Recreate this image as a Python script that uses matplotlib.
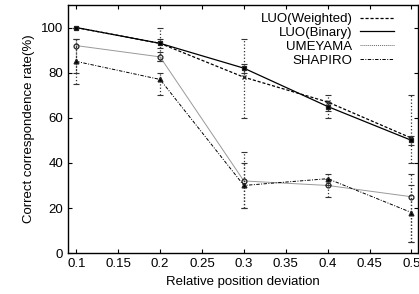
import numpy as np
import matplotlib.pyplot as plt
from matplotlib.lines import Line2D

plt.rcParams["font.family"] = ["Liberation Sans", "DejaVu Sans"]

x = [0.1, 0.2, 0.3, 0.4, 0.5]

# LUO(Weighted)
luo_w = [100, 93, 78, 67, 51]
luo_w_lo = [100, 85, 60, 60, 40]
luo_w_hi = [100, 100, 95, 70, 70]
# LUO(Binary)
luo_b = [100, 93, 82, 65, 50]
luo_b_lo = [100, 91, 80, 63, 48]
luo_b_hi = [100, 95, 84, 67, 52]
# UMEYAMA
ume = [92, 87, 32, 30, 25]
ume_lo = [80, 85, 20, 25, 5]
ume_hi = [95, 89, 45, 33, 35]
# SHAPIRO
sha = [85, 77, 30, 33, 18]
sha_lo = [75, 70, 20, 30, 5]
sha_hi = [95, 80, 40, 35, 30]

xticks = [0.1, 0.15, 0.2, 0.25, 0.3, 0.35, 0.4, 0.45, 0.5]

fig = plt.figure(figsize=(4.19, 2.94), dpi=100)
ax = fig.add_axes([0.162, 0.139, 0.836, 0.844])

series = [
    ("LUO(Weighted)", luo_w, luo_w_lo, luo_w_hi, "#000000", (0, (2.5, 1.5)), "x", 0.9),
    ("LUO(Binary)", luo_b, luo_b_lo, luo_b_hi, "#000000", "-", "s", 0.9),
    ("UMEYAMA", ume, ume_lo, ume_hi, "#999999", "-", "o", 0.7),
    ("SHAPIRO", sha, sha_lo, sha_hi, "#000000", (0, (3.5, 1.5, 1, 1.5)), "^", 0.7),
]

handles = []
for name, y, lo, hi, col, ls, mk, lw in series:
    y = np.array(y)
    err = [y - np.array(lo), np.array(hi) - y]
    ax.errorbar(x, y, yerr=err, fmt="none", ecolor="#333333", elinewidth=0.9,
                capsize=2, capthick=0.8)
    ax.plot(x, y, color=col, linestyle=ls, linewidth=lw, marker=mk,
            markersize=3.5, markerfacecolor="none" if mk in ("o", "x") else col,
            markeredgecolor="#222222", markeredgewidth=0.9)
    lcol = "#666666" if name == "UMEYAMA" else col
    lls = (0, (1, 1)) if name == "UMEYAMA" else ls
    handles.append(Line2D([], [], color=lcol, linestyle=lls, linewidth=lw))

for c in ax.collections:
    c.set_linestyle(":")

ax.set_xlim(0.09, 0.508)
ax.set_ylim(0, 110)
ax.set_xticks(xticks)
ax.set_xticklabels([f"{t:g}" for t in xticks])
ax.set_yticks([0, 20, 40, 60, 80, 100])
ax.tick_params(direction="in", top=True, right=True, labelsize=9.5, length=3)
for s in ax.spines.values():
    s.set_linewidth(1.0)

ax.set_xlabel("Relative position deviation", fontsize=9.5)
ax.set_ylabel("Correct correspondence rate(%)", fontsize=9.5)

ax.legend(handles, [s[0] for s in series], loc="upper right", frameon=False,
          markerfirst=False, fontsize=9.5, handlelength=2.6, labelspacing=0.12,
          borderaxespad=0.3, handletextpad=0.6, borderpad=0.3,
          bbox_to_anchor=(0.955, 1.0))

fig.savefig("out.png", dpi=100)
